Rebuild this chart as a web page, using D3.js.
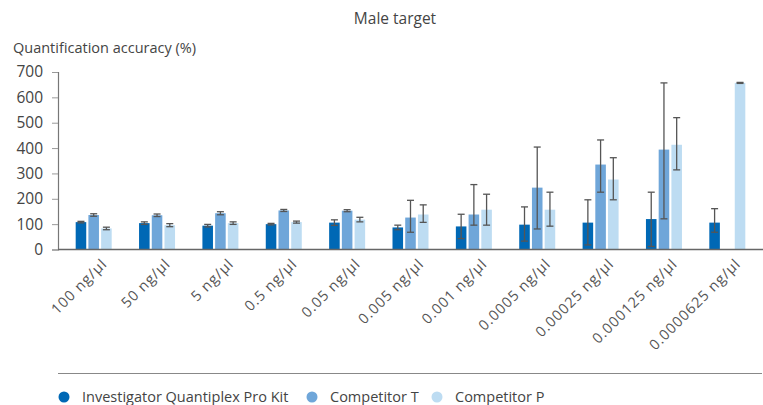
<!DOCTYPE html>
<html>
<head>
<meta charset="utf-8">
<script src="https://cdn.jsdelivr.net/npm/d3@7"></script>
<style>
  body { margin: 0; background: #fff; }
  svg { font-family: "Open Sans", "Noto Sans", sans-serif; }
</style>
</head>
<body>
<svg id="chart"></svg>
<script>
// categories and series
var categories = ["100 ng/\u00b5l", "50 ng/\u00b5l", "5 ng/\u00b5l", "0.5 ng/\u00b5l", "0.05 ng/\u00b5l",
    "0.005 ng/\u00b5l", "0.001 ng/\u00b5l", "0.0005 ng/\u00b5l", "0.00025 ng/\u00b5l",
    "0.000125 ng/\u00b5l", "0.0000625 ng/\u00b5l"];
var seriesNames = ["Investigator Quantiplex Pro Kit", "Competitor T", "Competitor P"];
var seriesColors = ["#0068b5", "#6fa6d9", "#bddcf2"];

// mean values (null = no bar)
var qiagen = [108, 104, 94, 100, 106, 87, 91, 98, 106, 120, 106];
var compT = [136, 135, 143, 154, 153, 126, 138, 244, 335, 394, null];
var compP = [83, 96, 104, 108, 118, 138, 157, 157, 276, 413, 657];

// error bars: distance above and below the mean
var qiagenUp = [3, 5, 5, 3, 11, 9, 48, 70, 90, 106, 55];
var qiagenDown = [3, 5, 5, 3, 11, 9, 48, 65, 88, 108, 38];
var compTUp = [5, 5, 6, 4, 4, 68, 118, 160, 97, 263, null];
var compTDown = [5, 5, 6, 4, 4, 58, 42, 163, 109, 273, null];
var compPUp = [5, 6, 5, 4, 9, 38, 61, 69, 86, 107, 2];
var compPDown = [5, 6, 5, 4, 9, 31, 61, 65, 80, 99, 2];

var yTicks = [0, 100, 200, 300, 400, 500, 600, 700];

var svgWidth = 763, svgHeight = 405;
var margin = { left: 58, top: 72, bottom: 155 };
var svg = d3.select("#chart")
    .attr("width", svgWidth)
    .attr("height", svgHeight);

var plotBottom = svgHeight - margin.bottom - 0.5; // ~249.5

var x0 = d3.scaleBand()
    .domain(categories)
    .range([62, 759]);

var x1 = d3.scaleBand()
    .domain(seriesNames)
    .range([-18, 18])
    .paddingInner(0.17);

var y = d3.scaleLinear()
    .domain([0, 700])
    .range([plotBottom, margin.top]);

// title
svg.append("text")
    .attr("x", 395)
    .attr("y", 24)
    .attr("text-anchor", "middle")
    .attr("font-size", 15.5)
    .attr("fill", "#444")
    .text("Male target");

// y title
svg.append("text")
    .attr("x", 13)
    .attr("y", 53)
    .attr("font-size", 14.5)
    .attr("fill", "#444")
    .text("Quantification accuracy (%)");

// y axis
var yAxis = svg.append("g")
    .attr("transform", "translate(" + margin.left + ",0)")
    .call(d3.axisLeft(y).tickValues(yTicks).tickSize(6).tickPadding(9));
yAxis.select(".domain").attr("stroke", "#777").attr("stroke-width", 1.2);
yAxis.selectAll(".tick line").attr("stroke", "#999");
yAxis.selectAll(".tick text")
    .attr("font-size", 15.5)
    .attr("fill", "#444")
    .style("font-family", "'Open Sans', sans-serif");

var allSeries = [
    { name: seriesNames[0], values: qiagen, up: qiagenUp, down: qiagenDown, color: seriesColors[0] },
    { name: seriesNames[1], values: compT, up: compTUp, down: compTDown, color: seriesColors[1] },
    { name: seriesNames[2], values: compP, up: compPUp, down: compPDown, color: seriesColors[2] }
];

allSeries.forEach(function (s) {
    var pts = categories.map(function (c, i) {
        return { cat: c, v: s.values[i], hi: s.values[i] + s.up[i], lo: Math.max(0, s.values[i] - s.down[i]) };
    }).filter(function (d) { return d.v != null; });

    var g = svg.append("g");
    g.selectAll("rect")
        .data(pts)
        .enter()
        .append("rect")
        .attr("x", function (d) { return x0(d.cat) + x0.bandwidth() / 2 + x1(s.name); })
        .attr("y", function (d) { return y(d.v); })
        .attr("width", x1.bandwidth())
        .attr("height", function (d) { return plotBottom - y(d.v); })
        .attr("fill", s.color);

    var eg = g.selectAll("g.err")
        .data(pts)
        .enter()
        .append("g")
        .attr("class", "err")
        .attr("transform", function (d) {
            return "translate(" + (x0(d.cat) + x0.bandwidth() / 2 + x1(s.name) + x1.bandwidth() / 2) + ",0)";
        });
    eg.append("line")
        .attr("y1", function (d) { return y(d.hi); })
        .attr("y2", function (d) { return y(d.lo); })
        .attr("stroke", "#555")
        .attr("stroke-width", 1.3);
    eg.append("line")
        .attr("x1", -3.5).attr("x2", 3.5)
        .attr("y1", function (d) { return y(d.hi); })
        .attr("y2", function (d) { return y(d.hi); })
        .attr("stroke", "#555")
        .attr("stroke-width", 1.3);
    eg.append("line")
        .attr("x1", -3.5).attr("x2", 3.5)
        .attr("y1", function (d) { return y(d.lo); })
        .attr("y2", function (d) { return y(d.lo); })
        .attr("stroke", "#555")
        .attr("stroke-width", 1.3);
});

// x axis line
svg.append("line")
    .attr("x1", margin.left).attr("x2", svgWidth)
    .attr("y1", plotBottom).attr("y2", plotBottom)
    .attr("stroke", "#666")
    .attr("stroke-width", 1.5);

// x labels, rotated
svg.append("g").selectAll("text")
    .data(categories)
    .enter()
    .append("text")
    .attr("transform", function (d) {
        return "translate(" + (x0(d) + x0.bandwidth() / 2 + 7) + "," + (plotBottom + 8) + ") rotate(-45)";
    })
    .attr("text-anchor", "end")
    .attr("dy", "0.7em")
    .attr("font-size", 14.5)
    .attr("letter-spacing", 0.9)
    .attr("fill", "#555")
    .text(function (d) { return d; });

// legend separator
svg.append("line")
    .attr("x1", margin.left).attr("x2", 762)
    .attr("y1", 373.5).attr("y2", 373.5)
    .attr("stroke", "#888")
    .attr("stroke-width", 1.2);

var legendX = [64, 312, 437];
var legend = svg.append("g").selectAll("g")
    .data(allSeries)
    .enter()
    .append("g")
    .attr("transform", function (d, i) { return "translate(" + legendX[i] + ",397)"; });
legend.append("circle")
    .attr("r", 5.5)
    .attr("fill", function (d) { return d.color; });
legend.append("text")
    .attr("x", 18)
    .attr("dy", "0.35em")
    .attr("font-size", 14.5)
    .attr("fill", "#444")
    .text(function (d) { return d.name; });
</script>
</body>
</html>
